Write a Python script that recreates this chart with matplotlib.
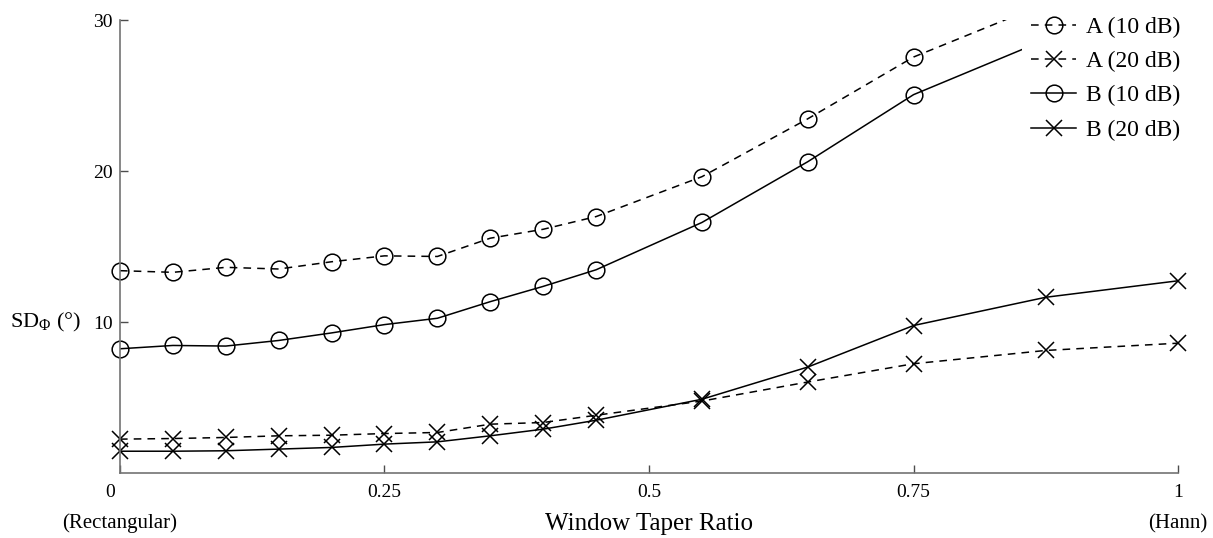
import matplotlib.pyplot as plt
import matplotlib.transforms as mtransforms

plt.rcParams['font.family'] = ['Liberation Serif', 'DejaVu Serif']
plt.rcParams['mathtext.fontset'] = 'custom'
plt.rcParams['mathtext.rm'] = 'Liberation Serif'
plt.rcParams['mathtext.it'] = 'Liberation Serif:italic'

# window taper ratio (0 = rectangular, 1 = Hann)
taper = [0, 0.05, 0.1, 0.15, 0.2, 0.25, 0.3, 0.35, 0.4, 0.45, 0.55, 0.65, 0.75, 0.875, 1.0]

# phase standard deviation (degrees)
a_10db = [13.41, 13.30, 13.63, 13.52, 14.0, 14.39, 14.35, 15.56, 16.15, 16.99, 19.63, 23.46, 27.55, 31.1, 33.0]
a_20db = [2.26, 2.30, 2.37, 2.48, 2.52, 2.63, 2.70, 3.25, 3.36, 3.84, 4.78, 6.04, 7.25, 8.13, 8.61]
b_10db = [8.24, 8.46, 8.42, 8.79, 9.29, 9.84, 10.26, 11.36, 12.37, 13.47, 16.6, 20.62, 25.06, 28.7, 30.5]
b_20db = [1.46, 1.46, 1.49, 1.60, 1.71, 1.93, 2.08, 2.48, 2.92, 3.51, 4.9, 7.03, 9.78, 11.65, 12.74]

xticks = [0, 0.25, 0.5, 0.75, 1]
xticklabels = ['0', '0.25', '0.5', '0.75', '1']
yticks = [10, 20, 30]
yticklabels = ['10', '20', '30']
ymax = 30

fig = plt.figure(figsize=(12.13, 5.38), dpi=100)
ax = fig.add_axes([0.0989, 0.1203, 0.8723, 0.8425])

dash = (5, 4)
style = dict(markersize=12, markeredgewidth=1.1, fillstyle='none', color='black', lw=1.1)
series = [
    (a_10db, 'o', dash, 'A (10 dB)'),
    (a_20db, 'x', dash, 'A (20 dB)'),
    (b_10db, 'o', None, 'B (10 dB)'),
    (b_20db, 'x', None, 'B (20 dB)'),
]
handles = []
for vals, m, d, name in series:
    # line clipped to the axes
    ln, = ax.plot(taper, vals, ls='-', color='black', lw=style['lw'])
    if d is not None:
        ln.set_dashes(d)
    # markers may sit on the spines, but only those inside the y range
    xs = [x for x, v in zip(taper, vals) if v <= ymax]
    ys = [v for v in vals if v <= ymax]
    ax.plot(xs, ys, marker=m, ls='none', clip_on=False, **style)
    # legend entry
    h, = ax.plot([], [], marker=m, ls='-', label=name, **style)
    if d is not None:
        h.set_dashes(d)
    handles.append(h)

ax.set_xlim(0, 1)
ax.set_ylim(0, ymax)
ax.set_xticks(xticks)
ax.set_xticklabels(xticklabels, fontsize=14)
ax.set_yticks(yticks)
ax.set_yticklabels(yticklabels, fontsize=14)

for side in ['top', 'right']:
    ax.spines[side].set_visible(False)
for side in ['left', 'bottom']:
    ax.spines[side].set_color('0.45')
    ax.spines[side].set_linewidth(1.2)
ax.tick_params(direction='in', length=6, width=1, color='0.3')
ax.tick_params(axis='x', pad=8)
ax.tick_params(axis='y', pad=5)

# nudge the "0" label off the y axis
lbl0 = ax.get_xticklabels()[0]
lbl0.set_transform(lbl0.get_transform() + mtransforms.ScaledTranslation(-10 / 100, 0, fig.dpi_scale_trans))

ax.set_xlabel('Window Taper Ratio', fontsize=18)
ax.xaxis.set_label_coords(0.5, -0.112)
ax.xaxis.label.set_va('center')
ax.text(0, -0.111, '(Rectangular)', transform=ax.get_xaxis_transform(), ha='center', va='center', fontsize=15)
ax.text(1, -0.111, '(Hann)', transform=ax.get_xaxis_transform(), ha='center', va='center', fontsize=15)
fig.text(0.008, 1 - 322 / 538, r'SD$_{\Phi}$ (°)', ha='left', va='center', fontsize=16)

leg = ax.legend(handles=handles, loc='upper right', bbox_to_anchor=(1190 / 1213, 1 - 7 / 538),
                bbox_transform=fig.transFigure, fontsize=17, frameon=True,
                handlelength=1.9, handletextpad=0.42, labelspacing=0.54, borderpad=0.4,
                borderaxespad=0)
leg.get_frame().set_facecolor('white')
leg.get_frame().set_edgecolor('none')
leg.get_frame().set_alpha(1)
leg.set_zorder(5)

fig.savefig('out.png', dpi=100)
